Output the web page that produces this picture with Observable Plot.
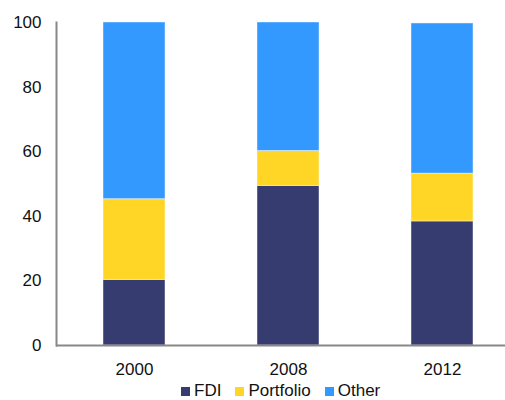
<!DOCTYPE html>
<html>
<head>
<meta charset="utf-8">
<script src="https://cdn.jsdelivr.net/npm/d3@7"></script>
<script src="https://cdn.jsdelivr.net/npm/@observablehq/plot@0.6"></script>
<style>
  html, body { margin: 0; padding: 0; background: #fff; overflow: hidden; }
  body { font-family: "Liberation Sans", Arial, sans-serif; }
  #legend { height: 14px; line-height: 14px; font-size: 17px; color: #111; padding-left: 181px; white-space: nowrap; }
  #legend .item { display: inline-block; margin-right: 14px; }
  #legend .sw { display: inline-block; width: 9px; height: 9px; margin-right: 4px; vertical-align: baseline; }
</style>
</head>
<body>
<div id="chart"></div>
<div id="legend"></div>
<script>
const years = ["2000", "2008", "2012"];
const seriesNames = ["FDI", "Portfolio", "Other"];
const colors = ["#363B70", "#FFD625", "#3399FF"];
const fdi = [20.3, 49.4, 38.4];
const portfolio = [25.0, 10.8, 14.8];
const other = [54.7, 39.8, 46.5];
const yTicks = [0, 20, 40, 60, 80, 100];

const values = [fdi, portfolio, other];
const rows = [];
years.forEach((yr, i) => {
  seriesNames.forEach((s, j) => rows.push({year: yr, series: s, value: values[j][i]}));
});

const plot = Plot.plot({
  width: 505,
  height: 384,
  marginTop: 22,
  marginBottom: 39,
  marginLeft: 56,
  marginRight: 0,
  style: {fontFamily: "Liberation Sans, Arial, sans-serif", fontSize: "17px", color: "#111", background: "#fff"},
  x: {domain: years, range: [56, 518.75], paddingInner: 0.6, paddingOuter: 0.3, label: null},
  y: {domain: [0, 100], label: null},
  color: {domain: seriesNames, range: colors},
  marks: [
    Plot.barY(rows, {x: "year", y: "value", fill: "series", stroke: "#ffffff", strokeOpacity: 0.45, strokeWidth: 1}),
    Plot.frame({anchor: "left", stroke: "#888", strokeWidth: 2}),
    Plot.ruleY([0], {stroke: "#888", strokeWidth: 2}),
    Plot.axisY(yTicks, {tickSize: 0, tickPadding: 15, fontSize: 17, label: null}),
    Plot.axisX({tickSize: 0, tickPadding: 17, fontSize: 17, label: null})
  ]
});
document.getElementById("chart").appendChild(plot);

const legend = document.getElementById("legend");
seriesNames.forEach((s, j) => {
  const item = document.createElement("span");
  item.className = "item";
  const sw = document.createElement("span");
  sw.className = "sw";
  sw.style.background = colors[j];
  item.appendChild(sw);
  item.appendChild(document.createTextNode(s));
  legend.appendChild(item);
});
</script>
</body>
</html>
